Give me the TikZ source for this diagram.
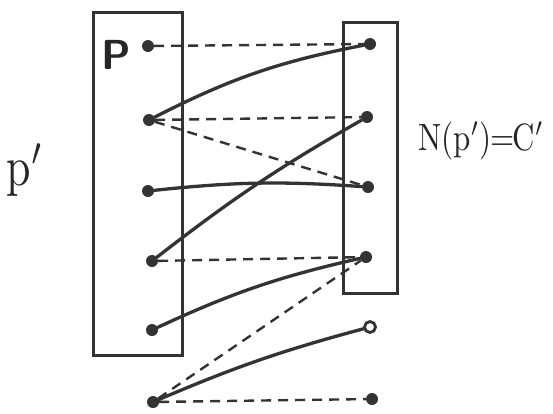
\documentclass[tikz,border=0pt]{standalone}
\usepackage{graphicx}
\begin{document}
\begin{tikzpicture}[x=1pt,y=-1pt,
  ink/.style={draw=black!80, line width=3.3pt, line cap=round, line join=round},
  dsh/.style={draw=black!80, line width=2.4pt, dash pattern=on 10pt off 7pt},
  boxs/.style={draw=black!80, line width=3pt},
  dotn/.style={circle, fill=black!80, inner sep=0pt, minimum size=12pt},
  hol/.style={circle, draw=black!80, fill=white, line width=2.8pt, inner sep=0pt, minimum size=11pt},
  lbl/.style={text=black!85, inner sep=0pt}]
\useasboundingbox (0,0) rectangle (553,413);
% boxes
\node[boxs, minimum width=89pt, minimum height=343pt, inner sep=0pt] (lbox) at (137.5,183.5) {};
\node[boxs, minimum width=54pt, minimum height=271pt, inner sep=0pt] (rbox) at (370,157.5) {};
% left dots
\node[dotn] (l1) at (148,46) {};
\node[dotn] (l2) at (149,120) {};
\node[dotn] (l3) at (148,191) {};
\node[dotn] (l4) at (152,261) {};
\node[dotn] (l5) at (152,330) {};
\node[dotn] (b)  at (153,402) {};
% right dots
\node[dotn] (r1) at (370,44) {};
\node[dotn] (r2) at (367,117) {};
\node[dotn] (r3) at (368,187) {};
\node[dotn] (r4) at (366,257) {};
\node[hol]  (r5) at (370,327) {};
\node[dotn] (r6) at (372,399) {};
% labels
\node[lbl] (P) at (116,55) {\scalebox{4.2}{\bfseries\sffamily P}};
\node[lbl] (pp) at (25,170) {\scalebox{4.4}[5.6]{p$'$}};
\node[lbl] (nc) at (481,141) {\scalebox{3.1}[3.8]{N(p$'$)\kern-0.5pt=\kern-0.5ptC$'$}};
% dashed edges
\draw[dsh] (l1) -- (r1);
\draw[dsh] (l2) -- (r2);
\draw[dsh] (l2) -- (r3);
\draw[dsh] (l4) -- (r4);
\draw[dsh] (b) -- (r4);
\draw[dsh] (b) -- (r6);
% solid edges
\draw[ink] (l2) to[bend left=8] (r1);
\draw[ink] (l3) to[bend left=5] (r3);
\draw[ink] (l4) to[bend left=4] (r2);
\draw[ink] (l5) to[bend left=6] (r4);
\draw[ink] (b) to[bend left=4] (r5);
\end{tikzpicture}
\end{document}
